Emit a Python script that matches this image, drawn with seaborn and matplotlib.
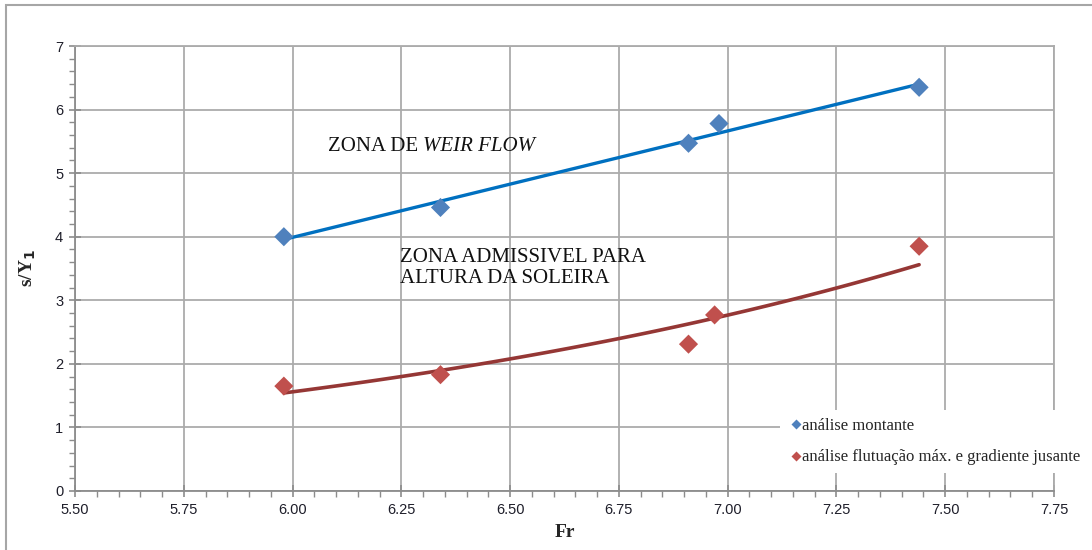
import numpy as np
import pandas as pd
import matplotlib
matplotlib.use("Agg")
import matplotlib.pyplot as plt
from matplotlib.patches import Rectangle
from matplotlib.ticker import MultipleLocator, FormatStrFormatter
import seaborn as sns

# Froude number and relative sill height for both analyses
fr_montante = [5.98, 6.34, 6.91, 6.98, 7.44]
sy_montante = [4.00, 4.46, 5.47, 5.78, 6.35]
fr_jusante = [5.98, 6.34, 6.91, 6.97, 7.44]
sy_jusante = [1.65, 1.83, 2.31, 2.77, 3.85]

series_names = ["análise montante", "análise flutuação máx. e gradiente jusante"]
marker_colors = ["#4F81BD", "#C0504D"]
trend_colors = ["#0070C0", "#953735"]

df = pd.DataFrame({
    "Fr": fr_montante + fr_jusante,
    "sY": sy_montante + sy_jusante,
    "serie": [series_names[0]] * len(fr_montante) + [series_names[1]] * len(fr_jusante),
})

sns.set_style("white")
plt.rcParams["font.family"] = ["Liberation Serif", "DejaVu Serif"]

fig = plt.figure(figsize=(10.92, 5.5), dpi=100)
ax = fig.add_axes([75 / 1092, 59 / 550, (1054 - 75) / 1092, (491 - 46) / 550])

# Trend lines: linear for the upstream series, exponential for the downstream one
xa = np.linspace(min(fr_montante), max(fr_montante), 100)
k1, b1 = np.polyfit(fr_montante, sy_montante, 1)
xb = np.linspace(min(fr_jusante), max(fr_jusante), 100)
k2, b2 = np.polyfit(fr_jusante, np.log(sy_jusante), 1)
sns.lineplot(x=xa, y=k1 * xa + b1, ax=ax, color=trend_colors[0], lw=2.4, zorder=3)
sns.lineplot(x=xb, y=np.exp(b2 + k2 * xb), ax=ax, color=trend_colors[1], lw=2.6, zorder=3)

sns.scatterplot(data=df, x="Fr", y="sY", hue="serie", palette=marker_colors,
                marker="D", s=95, edgecolor="none", ax=ax, zorder=4, legend=True)

ax.set_xlim(5.5, 7.75)
ax.set_ylim(0, 7)
ax.xaxis.set_major_locator(MultipleLocator(0.25))
ax.xaxis.set_minor_locator(MultipleLocator(0.05))
ax.yaxis.set_major_locator(MultipleLocator(1))
ax.yaxis.set_minor_locator(MultipleLocator(0.2))
ax.xaxis.set_major_formatter(FormatStrFormatter("%.2f"))
ax.grid(True, which="major", color="#ababab", lw=1.3)
ax.set_axisbelow(True)

for side in ["top", "right"]:
    ax.spines[side].set_color("#ababab")
    ax.spines[side].set_linewidth(1.3)
for side in ["left", "bottom"]:
    ax.spines[side].set_color("#8c8c8c")
    ax.spines[side].set_linewidth(1.3)

ax.tick_params(which="major", direction="inout", length=9, width=1.2, color="#8c8c8c",
               labelsize=10.5, labelcolor="#1e1e2a", pad=4)
ax.tick_params(which="minor", direction="out", length=4, width=1.0, color="#8c8c8c")
ax.tick_params(axis="y", which="both", left=True)
ax.tick_params(axis="x", which="both", bottom=True)
for lab in ax.get_xticklabels() + ax.get_yticklabels():
    lab.set_family("Liberation Sans")

ax.set_xlabel("Fr", fontsize=14, fontweight="bold", labelpad=5)
ax.set_ylabel("s/Y$_\\mathbf{1}$", fontsize=14, fontweight="bold", labelpad=12)

# Zone annotations
zone_size = 15
y_weir = 7 * (491 - 146) / 445
x_weir = 5.5 + (328 - 75) / 435
t = ax.text(x_weir, y_weir, "ZONA DE ", fontsize=zone_size, va="center", ha="left",
            color="#111111")
fig.canvas.draw()
bb = t.get_window_extent().transformed(ax.transData.inverted())
ax.text(bb.x1, y_weir, "WEIR FLOW", fontsize=zone_size, style="italic",
        va="center", ha="left", color="#111111")
ax.text(5.5 + (400 - 75) / 435, 7 * (491 - 268) / 445,
        "ZONA ADMISSIVEL PARA\nALTURA DA SOLEIRA", fontsize=zone_size, va="center",
        ha="left", linespacing=1.1, color="#111111")

handles, labels = ax.get_legend_handles_labels()
ax.legend(handles, labels, loc="upper left", bbox_to_anchor=(780 / 1092, 1 - 410 / 550),
          bbox_transform=fig.transFigure, frameon=True, facecolor="white", edgecolor="none",
          framealpha=1, fancybox=False, fontsize=12, markerscale=0.55, handletextpad=-0.1,
          handlelength=1.0, labelspacing=0.95, borderpad=0.45, borderaxespad=0, title=None)

# Outer chart frame
fig.patches.append(Rectangle((6 / 1092, -0.1), 2, 1.1 - 5 / 550, transform=fig.transFigure,
                             fill=False, edgecolor="#a6a6a6", lw=1.5))

fig.savefig("out.png", dpi=100)
